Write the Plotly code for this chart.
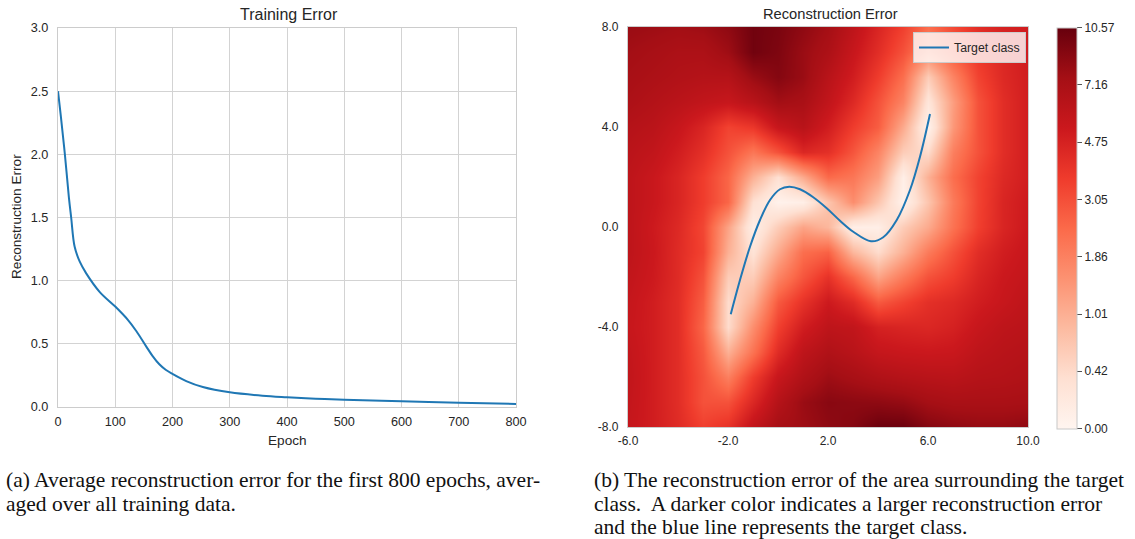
import numpy as np
import plotly.graph_objects as go

W, H = 1135, 539

# ---- (a) training curve ----
epochs = [0, 5, 12, 19, 23, 29, 38, 49, 73, 100, 122, 137, 154, 165, 177,
          188, 200, 224, 253, 300, 357, 400, 450, 500, 600, 700, 800]
train_error = [2.5, 2.3, 2.0, 1.66, 1.5, 1.27, 1.15, 1.06, 0.91, 0.795, 0.69,
               0.60, 0.48, 0.405, 0.338, 0.295, 0.262, 0.205, 0.158, 0.116,
               0.089, 0.077, 0.066, 0.057, 0.046, 0.033, 0.024]

# ---- (b) reconstruction error over the input plane ----
grid_x = list(range(-6, 11))          # -6 .. 10
grid_y = list(range(8, -9, -1))       # 8 .. -8 (rows listed top to bottom)
error_grid = [
    [8.0, 7.8, 7.6, 7.8, 8.5, 10.0, 9.5, 8.5, 7.5, 6.0, 4.6, 3.5, 2.3, 3.2, 4.2, 4.8, 5.0],
    [7.6, 7.3, 7.0, 7.0, 7.8, 10.0, 9.3, 8.0, 7.0, 5.5, 4.2, 3.0, 1.8, 2.8, 3.8, 4.5, 5.1],
    [7.3, 7.0, 6.7, 6.5, 6.5, 8.0, 9.0, 8.0, 6.3, 5.0, 3.6, 2.3, 0.6, 1.8, 3.4, 4.4, 5.0],
    [7.0, 6.6, 6.2, 5.8, 5.5, 6.3, 7.6, 7.2, 5.8, 4.4, 3.0, 1.8, 0.25, 1.3, 3.0, 4.2, 5.0],
    [6.5, 6.2, 5.5, 4.6, 3.4, 3.8, 5.5, 6.3, 5.0, 3.6, 2.7, 1.1, 0.05, 1.4, 3.0, 4.2, 5.0],
    [6.2, 5.8, 5.0, 4.1, 3.0, 2.1, 3.0, 4.5, 4.1, 2.9, 1.8, 0.6, 0.4, 1.9, 3.0, 4.2, 5.0],
    [6.0, 5.4, 4.6, 3.6, 2.5, 1.0, 0.35, 1.1, 2.4, 2.1, 1.3, 0.1, 1.0, 2.3, 3.4, 4.4, 5.0],
    [6.0, 5.4, 4.6, 3.6, 2.5, 0.35, 0.05, 0.1, 0.7, 1.6, 0.7, 0.05, 0.7, 2.0, 3.4, 4.6, 5.2],
    [6.0, 5.2, 4.4, 3.3, 1.2, 0.1, 0.6, 1.2, 0.9, 0.1, 0.1, 0.6, 1.1, 2.2, 3.5, 4.6, 5.3],
    [6.0, 5.3, 4.3, 3.4, 1.0, 0.3, 1.1, 2.3, 2.6, 0.9, 0.4, 1.0, 2.0, 3.0, 4.2, 5.0, 5.5],
    [5.8, 5.2, 4.3, 3.0, 0.6, 0.6, 1.8, 2.9, 4.0, 2.5, 1.2, 2.0, 3.0, 3.6, 4.6, 5.3, 5.7],
    [5.6, 5.0, 4.2, 2.7, 0.4, 1.0, 2.8, 4.0, 5.2, 4.3, 2.8, 3.4, 4.1, 4.4, 5.0, 5.5, 6.0],
    [5.5, 5.0, 4.2, 2.5, 0.4, 1.6, 3.5, 5.0, 6.0, 5.8, 4.8, 4.6, 4.5, 4.8, 5.5, 6.0, 6.2],
    [5.7, 5.0, 4.2, 2.8, 1.0, 2.2, 4.3, 6.0, 6.8, 6.3, 5.6, 5.4, 5.3, 5.4, 6.0, 6.3, 6.5],
    [5.8, 5.0, 4.2, 3.0, 1.9, 3.6, 5.5, 6.8, 7.8, 7.3, 6.8, 6.5, 6.3, 6.2, 6.5, 6.6, 6.8],
    [5.7, 5.0, 4.2, 3.0, 3.0, 4.5, 6.5, 8.0, 8.8, 8.6, 8.5, 8.2, 7.5, 7.2, 7.2, 7.2, 7.3],
    [5.6, 5.0, 4.3, 3.5, 4.0, 5.8, 7.4, 7.8, 8.5, 9.0, 10.3, 10.3, 9.0, 8.5, 8.2, 8.2, 8.5],
]
error_max = 10.57
colorbar_ticks = [0.00, 0.42, 1.01, 1.86, 3.05, 4.75, 7.16, 10.57]

# target class curve
class_x = [-1.89, -1.52, -1.12, -0.72, -0.32, 0.08, 0.45, 0.88, 1.41, 1.95,
           2.48, 3.01, 3.72, 4.21, 4.75, 5.28, 5.68, 6.08]
class_y = [-3.49, -2.12, -0.79, 0.28, 1.08, 1.51, 1.61, 1.51, 1.19, 0.75,
           0.25, -0.19, -0.57, -0.41, 0.28, 1.48, 2.81, 4.52]

heat_xticks = [-6, -2, 2, 6, 10]
heat_yticks = [-8, -4, 0, 4, 8]

reds = ['#fff5f0', '#fee0d2', '#fcbba1', '#fc9272', '#fb6a4a',
        '#ef3b2c', '#cb181d', '#a50f15', '#67000d']
reds_scale = [[i / (len(reds) - 1), c] for i, c in enumerate(reds)]

SANS = 'Liberation Sans, Arial, sans-serif'
SERIF = 'Liberation Serif, Times New Roman, serif'
TXT = '#262626'
GRID = '#d3d3d3'


def px_x(p):
    return p / W


def px_y(p):
    return 1 - p / H


err = np.array(error_grid)

fig = go.Figure()

fig.add_trace(go.Scatter(
    x=epochs, y=train_error, mode='lines',
    line=dict(color='#1f77b4', width=2, shape='spline', smoothing=1.0),
    xaxis='x', yaxis='y', showlegend=False))

fig.add_trace(go.Heatmap(
    x=grid_x, y=grid_y, z=np.log1p(err), customdata=err,
    hovertemplate='x=%{x}, y=%{y}<br>error=%{customdata:.2f}<extra></extra>',
    zmin=0, zmax=np.log1p(error_max), zsmooth='best',
    colorscale=reds_scale, xaxis='x2', yaxis='y2', showlegend=False,
    colorbar=dict(
        x=px_x(1057), xanchor='left', xpad=0,
        y=px_y(228), yanchor='middle', ypad=0,
        lenmode='pixels', len=401, thickness=20,
        outlinewidth=1, outlinecolor='#c8c8c8',
        tickvals=list(np.log1p(colorbar_ticks)),
        ticktext=[f'{t:.2f}' for t in colorbar_ticks],
        ticks='outside', ticklen=5, tickcolor='#555555',
        tickfont=dict(family=SANS, size=12, color=TXT))))

fig.add_trace(go.Scatter(
    x=class_x, y=class_y, mode='lines', name='Target class',
    line=dict(color='#1f77b4', width=2, shape='spline', smoothing=1.0),
    xaxis='x2', yaxis='y2'))


def axis_style(size, ticklen=6):
    return dict(
        showline=True, mirror=True, linecolor='#cccccc', linewidth=1.25,
        zeroline=False, ticks='outside', ticklen=ticklen,
        tickcolor='rgba(0,0,0,0)',
        tickfont=dict(family=SANS, size=size, color=TXT))


fig.update_layout(
    width=W, height=H,
    margin=dict(l=0, r=0, t=0, b=0, autoexpand=False),
    paper_bgcolor='white', plot_bgcolor='white',
    xaxis=dict(domain=[px_x(58), px_x(516)], range=[0, 800],
               tick0=0, dtick=100, showgrid=True, gridcolor=GRID,
               anchor='y', **axis_style(12.7, 3)),
    yaxis=dict(domain=[px_y(407), px_y(28)], range=[0, 3.0],
               tick0=0, dtick=0.5, tickformat='.1f', showgrid=True,
               gridcolor=GRID, anchor='x', **axis_style(12.7)),
    xaxis2=dict(domain=[px_x(628), px_x(1028)], range=[-6, 10],
                tickvals=heat_xticks, ticktext=[f'{v:.1f}' for v in heat_xticks],
                showgrid=False, anchor='y2', **axis_style(12, 2)),
    yaxis2=dict(domain=[px_y(427), px_y(27)], range=[-8, 8],
                tickvals=heat_yticks, ticktext=[f'{v:.1f}' for v in heat_yticks],
                showgrid=False, anchor='x2', **axis_style(12)),
    legend=dict(x=px_x(1026), xanchor='right', y=px_y(32), yanchor='top',
                bgcolor='rgba(255,255,255,0.8)', bordercolor='#cccccc',
                borderwidth=1, font=dict(family=SANS, size=12.3, color=TXT)),
    showlegend=True,
)

ann = []


def label(text, x, y, size=13, family=SANS, color=TXT, xanchor='center',
          angle=0):
    ann.append(dict(text=text, x=px_x(x), y=px_y(y), xref='paper',
                    yref='paper', showarrow=False, xanchor=xanchor,
                    yanchor='middle', textangle=angle,
                    font=dict(family=family, size=size, color=color)))


label('Training Error', 289, 14, size=16)
label('Reconstruction Error', 830, 14, size=14.7)
label('Epoch', 287, 440, size=13.6)
label('Reconstruction Error', 16, 217, size=13.6, angle=-90)

cap_a = ['(a) Average reconstruction error for the first 800 epochs, aver-',
         'aged over all training data.']
cap_b = ['(b) The reconstruction error of the area surrounding the target',
         'class.  A darker color indicates a larger reconstruction error',
         'and the blue line represents the target class.']
for i, line in enumerate(cap_a):
    label(line.replace('  ', '&nbsp; '), 4, 480 + 23.5 * i, size=21.5,
          family=SERIF, color='#111111', xanchor='left')
for i, line in enumerate(cap_b):
    label(line.replace('  ', '&nbsp; '), 592, 480 + 23.5 * i, size=21.5,
          family=SERIF, color='#111111', xanchor='left')

fig.update_layout(annotations=ann)

fig.write_html('out.html')
